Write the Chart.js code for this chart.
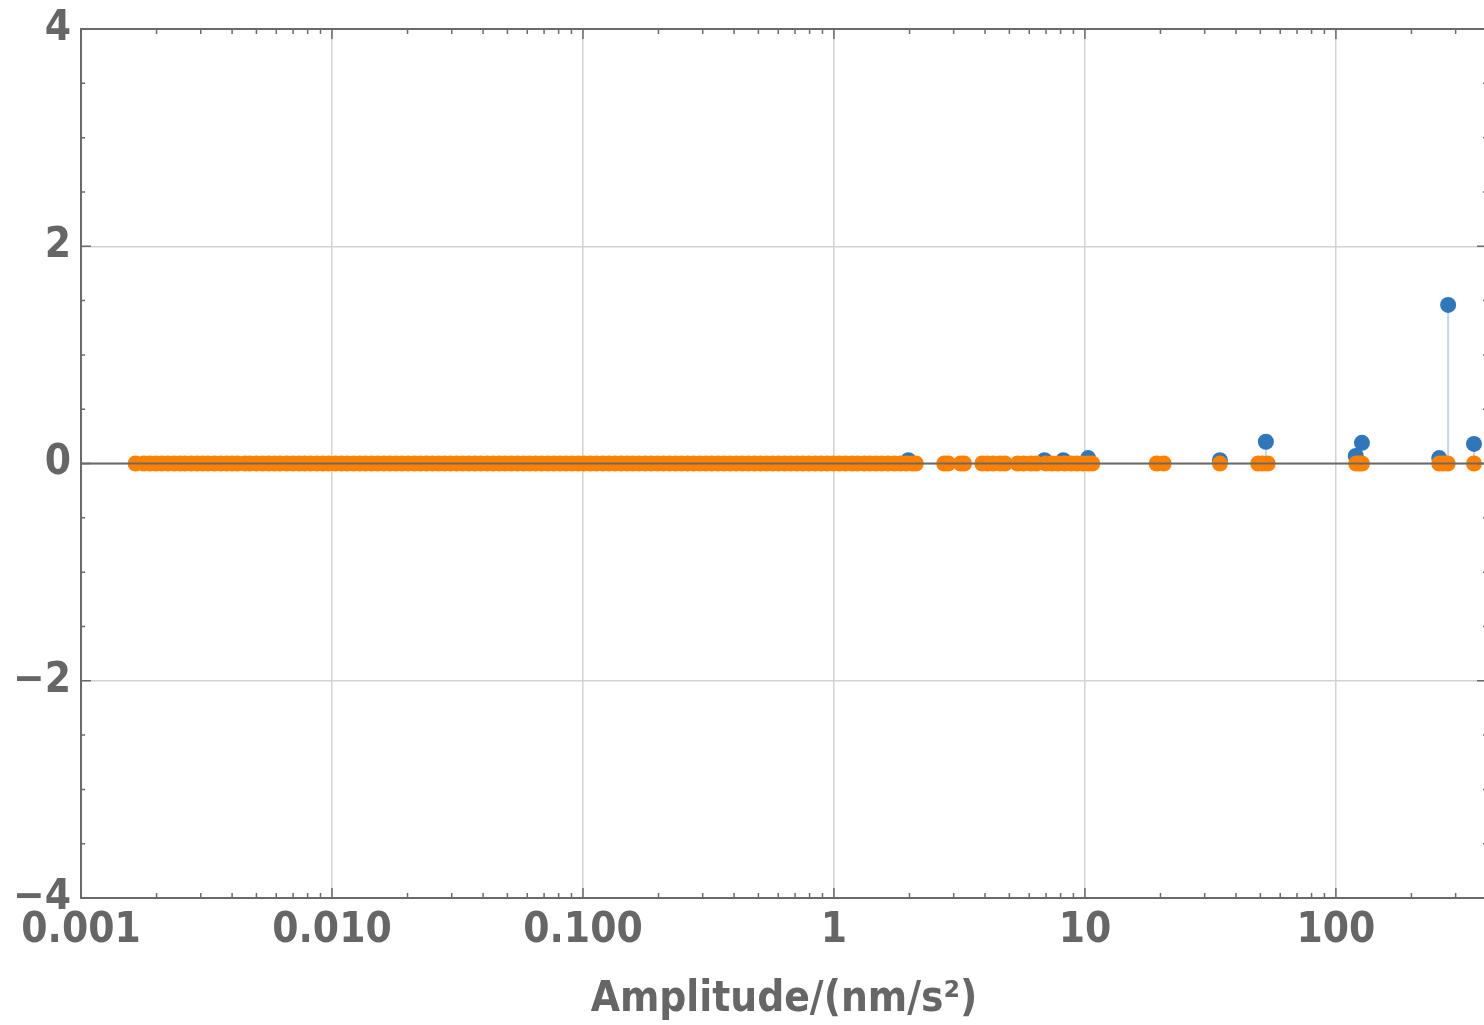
<!DOCTYPE html>
<html>
<head>
<meta charset="utf-8">
<script src="https://cdn.jsdelivr.net/npm/chart.js@4.4.1/dist/chart.umd.min.js"></script>
<style>
    html, body { margin: 0; padding: 0; overflow: hidden; background: #fff; }
    #clip { width: 1484px; height: 1025px; overflow: hidden; position: relative; }
    canvas { display: block; }
</style>
</head>
<body>
<div id="clip"><canvas id="ampChart" width="1495" height="1025"></canvas></div>
<script>
// orange series: amplitudes (nm/s^2), every point sits on 0
const orangeAmp = [
    0.00165, 0.00178, 0.00188, 0.00199, 0.0021, 0.00222, 0.00235, 0.00248, 0.0026, 0.00275,
    0.0029, 0.00305, 0.0032, 0.0034, 0.0036, 0.0038, 0.004, 0.0042, 0.0045, 0.0047,
    0.005, 0.0053, 0.0056, 0.0059, 0.0062, 0.0066, 0.007, 0.0074, 0.0078, 0.0082,
    0.0087, 0.0092, 0.0097, 0.0103, 0.0109, 0.0115, 0.0122, 0.0129, 0.0136, 0.0144,
    0.0152, 0.0161, 0.017, 0.018, 0.019, 0.0201, 0.0213, 0.0225, 0.0238, 0.0252,
    0.0266, 0.0281, 0.0297, 0.0314, 0.0332, 0.0351, 0.0371, 0.0392, 0.0415, 0.0439,
    0.0464, 0.049, 0.0518, 0.0548, 0.058, 0.0613, 0.0648, 0.0685, 0.0724, 0.0766,
    0.081, 0.0856, 0.0905, 0.0957, 0.101, 0.107, 0.113, 0.12, 0.127, 0.134,
    0.142, 0.15, 0.158, 0.167, 0.177, 0.187, 0.198, 0.209, 0.221, 0.234,
    0.247, 0.261, 0.276, 0.292, 0.309, 0.326, 0.345, 0.365, 0.386, 0.408,
    0.431, 0.456, 0.482, 0.51, 0.539, 0.57, 0.602, 0.637, 0.673, 0.712,
    0.752, 0.795, 0.841, 0.889, 0.94, 0.994, 1.05, 1.11, 1.18, 1.24,
    1.32, 1.39, 1.47, 1.55, 1.64, 1.74, 1.84, 1.94, 2.05, 2.12,
    2.75, 2.85, 3.2, 3.3, 3.9, 4.1, 4.3, 4.6, 4.8, 5.4,
    5.7, 6.1, 6.4, 7.0, 7.4, 7.8, 8.3, 8.8, 9.3, 9.8,
    10.3, 10.7, 19.3, 20.6, 34.5, 49, 51, 53.5, 120.5, 124,
    127, 258, 268, 279, 355
];

// blue series: amplitudes and values (stems drawn down to the axis)
const blueAmp = [1.98, 6.9, 8.2, 10.3, 34.5, 52.6, 120, 127, 258, 280, 355];
const blueVal = [0.03, 0.03, 0.03, 0.05, 0.03, 0.2, 0.07, 0.19, 0.05, 1.46, 0.18];

const xTickVals = [0.001, 0.01, 0.1, 1, 10, 100];
const xTickLabels = ['0.001', '0.010', '0.100', '1', '10', '100'];
const xMinorFactors = [2, 3, 4, 5, 6, 7, 8, 9];
const yTickVals = [-4, -2, 0, 2, 4];
const yTickLabels = ['\u22124', '\u22122', '0', '2', '4'];

const frameColor = '#6a6a6a';
const textColor = '#666666';
const labelFont = { family: "'DejaVu Sans Condensed', 'DejaVu Sans', sans-serif", weight: 'bold', size: 42 };

const orangePts = orangeAmp.map(a => ({ x: a, y: 0 }));
const bluePts = blueAmp.map((a, i) => ({ x: a, y: blueVal[i] }));
// stems: axis -> point, broken with a null between each
const stemPts = [];
blueAmp.forEach((a, i) => {
    stemPts.push({ x: a, y: 0 }, { x: a, y: blueVal[i] }, { x: a, y: null });
});

// Mathematica style frame: inward ticks on all four sides + axis line over the points
const frameTicks = {
    id: 'frameTicks',
    afterDatasetsDraw(chart) {
        const { ctx, chartArea: a, scales: { x, y } } = chart;
        ctx.save();
        ctx.strokeStyle = frameColor;

        // zero axis line drawn on top of the markers
        const y0 = y.getPixelForValue(0);
        ctx.lineWidth = 2;
        ctx.beginPath();
        ctx.moveTo(a.left, y0);
        ctx.lineTo(a.right, y0);
        ctx.stroke();

        // top and right edges of the frame
        ctx.beginPath();
        ctx.moveTo(a.left, a.top);
        ctx.lineTo(a.right, a.top);
        ctx.lineTo(a.right, a.bottom);
        ctx.stroke();

        ctx.lineWidth = 1.5;
        const xt = [];
        xTickVals.forEach(d => {
            xt.push([d, 10]);
            xMinorFactors.forEach(f => { if (d * f <= x.max) xt.push([d * f, 5]); });
        });
        ctx.beginPath();
        xt.forEach(([v, len]) => {
            const px = x.getPixelForValue(v);
            ctx.moveTo(px, a.bottom);
            ctx.lineTo(px, a.bottom - len);
            ctx.moveTo(px, a.top);
            ctx.lineTo(px, a.top + len);
        });
        for (let v = y.min; v <= y.max; v += 0.5) {
            const py = y.getPixelForValue(v);
            const len = yTickVals.includes(v) ? 10 : 4;
            ctx.moveTo(a.left, py);
            ctx.lineTo(a.left + len, py);
            ctx.moveTo(a.right, py);
            ctx.lineTo(a.right - len, py);
        }
        ctx.stroke();
        ctx.restore();
    }
};

const chart = new Chart(document.getElementById('ampChart'), {
    type: 'scatter',
    data: {
        datasets: [
            {
                label: 'orange',
                data: orangePts,
                backgroundColor: '#ff8000',
                pointRadius: 8,
                pointBorderWidth: 0,
                order: 0
            },
            {
                label: 'blue',
                data: bluePts,
                backgroundColor: '#3077ba',
                pointRadius: 8,
                pointBorderWidth: 0,
                order: 1
            },
            {
                label: 'stems',
                data: stemPts,
                showLine: true,
                spanGaps: false,
                borderColor: 'rgba(48, 119, 186, 0.3)',
                borderWidth: 2,
                pointRadius: 0,
                order: 2
            }
        ]
    },
    options: {
        responsive: false,
        animation: false,
        layout: { padding: { top: 29, right: 0, left: 0, bottom: 0 } },
        plugins: {
            legend: { display: false },
            tooltip: { enabled: false }
        },
        scales: {
            x: {
                type: 'logarithmic',
                min: 0.001,
                max: 400,
                afterBuildTicks: function(scale) {
                    scale.ticks = xTickVals.map(v => ({ value: v }));
                },
                afterFit: function(scale) {
                    scale.height = 127;
                    scale.paddingRight = 0;
                },
                ticks: {
                    autoSkip: false,
                    maxRotation: 0,
                    padding: 8,
                    color: textColor,
                    font: labelFont,
                    callback: function(value, index) {
                        return xTickLabels[index];
                    }
                },
                grid: { color: '#d2d2d2', lineWidth: 1.5, drawTicks: false },
                border: { color: frameColor, width: 2 },
                title: {
                    display: true,
                    text: 'Amplitude/(nm/s\u00b2)',
                    color: textColor,
                    font: labelFont,
                    padding: { top: 0, bottom: 0 }
                }
            },
            y: {
                min: -4,
                max: 4,
                afterBuildTicks: function(scale) {
                    scale.ticks = yTickVals.map(v => ({ value: v }));
                },
                afterFit: function(scale) {
                    scale.width = 81;
                    scale.paddingTop = 0;
                    scale.paddingBottom = 0;
                },
                ticks: {
                    padding: 10,
                    color: textColor,
                    font: labelFont,
                    callback: function(value, index) {
                        return yTickLabels[index];
                    }
                },
                grid: { color: '#d2d2d2', lineWidth: 1.5, drawTicks: false },
                border: { color: frameColor, width: 2 }
            }
        }
    },
    plugins: [frameTicks]
});
</script>
</body>
</html>
